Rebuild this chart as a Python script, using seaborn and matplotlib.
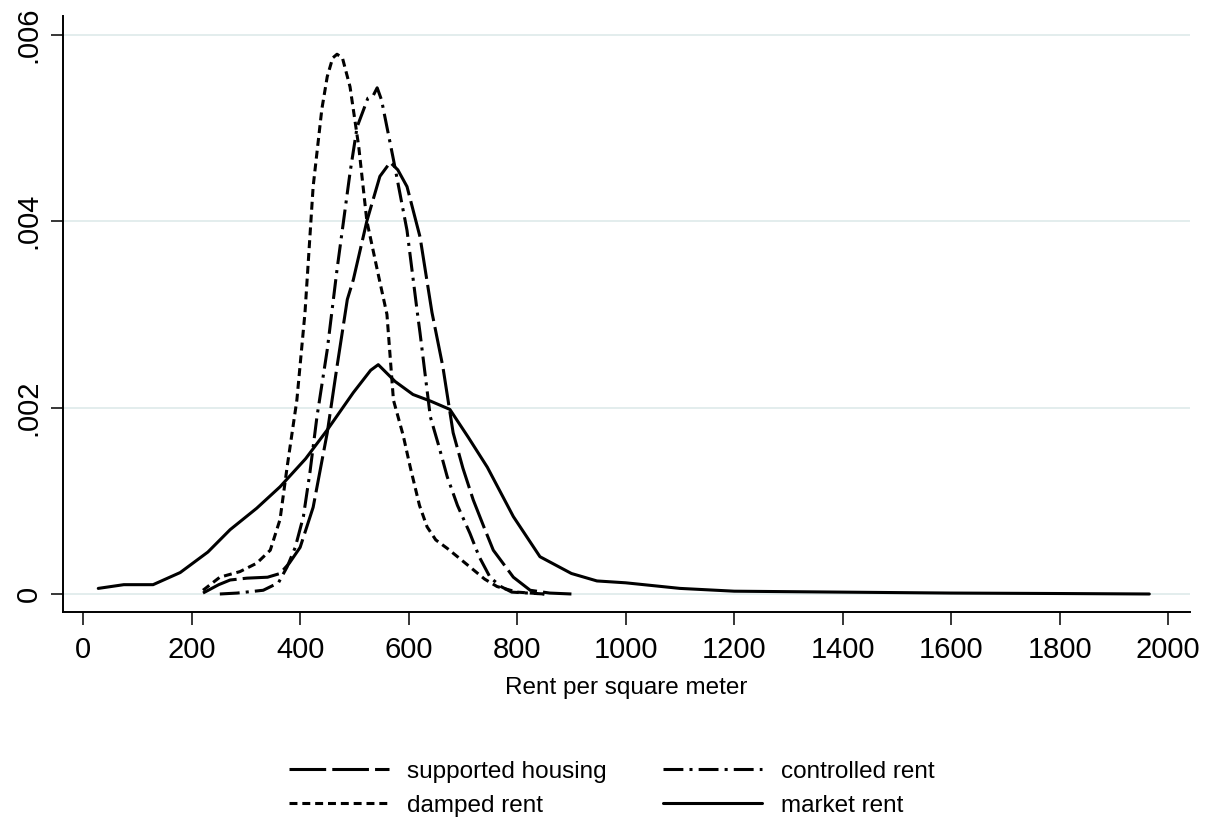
import numpy as np
import pandas as pd
import matplotlib
matplotlib.use("Agg")
import matplotlib.pyplot as plt
import seaborn as sns

# kernel density curves (rent per m2 vs density)
supported_x = [221, 250, 271, 302, 340, 363, 380, 400, 424, 450, 468, 487, 498, 523,
               547, 566, 580, 597, 621, 643, 663, 682, 700, 719, 740, 756, 793, 824,
               860, 900]
supported_y = [0.00001, 0.0001, 0.00015, 0.00017, 0.00018, 0.00022, 0.00033, 0.0005,
               0.00093, 0.00173, 0.00244, 0.00316, 0.00337, 0.004, 0.00448, 0.00463,
               0.00455, 0.00437, 0.00383, 0.00302, 0.00244, 0.00173, 0.00135, 0.00101,
               0.0007, 0.00047, 0.00018, 0.00004, 0.00001, 0.0]

damped_x = [221, 252, 289, 320, 345, 363, 376, 394, 409, 424, 440, 450, 460, 468, 478,
            492, 508, 523, 545, 560, 572, 590, 603, 620, 634, 650, 671, 690, 713, 740,
            763, 800, 850]
damped_y = [0.00004, 0.00018, 0.00024, 0.00033, 0.00047, 0.0008, 0.00136, 0.00208,
            0.00302, 0.00437, 0.0052, 0.00555, 0.00575, 0.00579, 0.00575, 0.00544,
            0.0048, 0.004, 0.0034, 0.003, 0.00208, 0.0017, 0.00136, 0.00095, 0.00072,
            0.00058, 0.00049, 0.0004, 0.00029, 0.00016, 0.00008, 0.00002, 0.0]

controlled_x = [252, 284, 332, 360, 376, 391, 406, 418, 431, 450, 468, 492, 505, 525,
                535, 542, 550, 572, 597, 616, 621, 640, 655, 671, 690, 713, 730, 750,
                770, 790, 850]
controlled_y = [0.0, 0.00001, 0.00004, 0.00012, 0.00029, 0.0005, 0.00083, 0.0013,
                0.0019, 0.00262, 0.00348, 0.00452, 0.00501, 0.00532, 0.00535, 0.00543,
                0.0053, 0.00466, 0.0039, 0.00302, 0.0028, 0.0019, 0.0016, 0.00126,
                0.00095, 0.00065, 0.0004, 0.00018, 0.00008, 0.00002, 0.0]

market_x = [28, 75, 129, 179, 230, 271, 320, 363, 410, 450, 498, 530, 544, 575, 608,
            640, 676, 710, 745, 793, 842, 900, 947, 1000, 1050, 1100, 1200, 1400, 1600,
            1800, 1965]
market_y = [0.00006, 0.0001, 0.0001, 0.00023, 0.00045, 0.00069, 0.00092, 0.00115,
            0.00145, 0.00176, 0.00216, 0.0024, 0.00246, 0.00228, 0.00214, 0.00207,
            0.00198, 0.00168, 0.00136, 0.00083, 0.0004, 0.00022, 0.00014, 0.00012,
            0.00009, 0.00006, 0.00003, 0.00002, 0.00001, 0.000005, 0.0]

series = ["supported housing", "damped rent", "controlled rent", "market rent"]
xticks = list(range(0, 2001, 200))
yticks = [0, 0.002, 0.004, 0.006]
ytick_labels = ["0", ".002", ".004", ".006"]

frames = []
for name, xs, ys in [("supported housing", supported_x, supported_y),
                     ("damped rent", damped_x, damped_y),
                     ("controlled rent", controlled_x, controlled_y),
                     ("market rent", market_x, market_y)]:
    frames.append(pd.DataFrame({"rent": xs, "density": ys, "type": name}))
df = pd.concat(frames, ignore_index=True)

sns.set_style("white")
plt.rcParams["font.family"] = ["Liberation Sans", "DejaVu Sans"]
plt.rcParams["text.color"] = "black"
plt.rcParams["axes.labelcolor"] = "black"

fig = plt.figure(figsize=(12.21, 8.25), dpi=100)
ax = fig.add_axes([0.0516, 0.2582, 0.923, 0.7224])

dashes = {
    "supported housing": (12, 2),
    "damped rent": (2.6, 1.6),
    "controlled rent": (6.5, 2, 1, 2),
    "market rent": "",
}
sns.lineplot(data=df, x="rent", y="density", hue="type", style="type",
             hue_order=series, style_order=series,
             palette=["black"] * 4, dashes=dashes, linewidth=2.2,
             estimator=None, sort=False, ax=ax)

ax.set_xlim(-37, 2040)
ax.set_ylim(-0.000193, 0.0062)
ax.set_xticks(xticks)
ax.set_yticks(yticks)
ax.set_yticklabels(ytick_labels, rotation=90, va="center")
ax.tick_params(axis="x", labelsize=21, length=9, width=1.1, pad=8, direction="out",
               bottom=True, colors="black")
ax.tick_params(axis="y", labelsize=21, length=9, width=1.1, pad=5.5, direction="out",
               left=True, colors="black")
ax.grid(axis="y", color="#e3eded", linewidth=1.4)
ax.grid(axis="x", visible=False)
ax.set_axisbelow(True)
for side in ["top", "right"]:
    ax.spines[side].set_visible(False)
for side in ["left", "bottom"]:
    ax.spines[side].set_linewidth(1.4)
    ax.spines[side].set_color("black")

ax.set_xlabel("Rent per square meter", fontsize=17.5, labelpad=10)
ax.set_ylabel("")

handles, labels = ax.get_legend_handles_labels()
ax.legend(handles, labels, ncol=2, frameon=False, fontsize=17.5,
          loc="center", bbox_to_anchor=(0.501, 0.044), bbox_transform=fig.transFigure,
          handlelength=4.1, handletextpad=0.75, columnspacing=2.3, labelspacing=0.5)

fig.savefig("out.png", dpi=100)
